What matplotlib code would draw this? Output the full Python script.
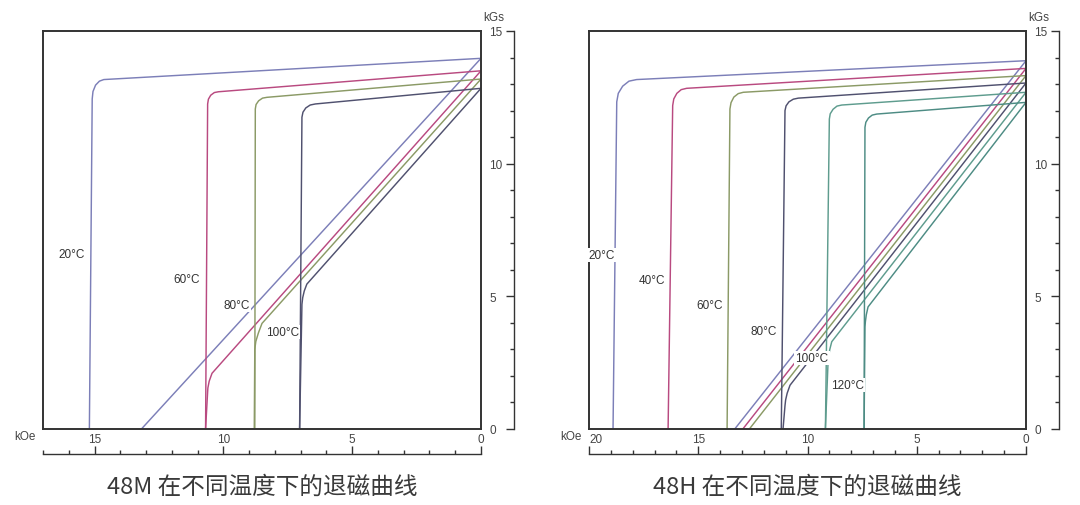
import matplotlib
matplotlib.use("Agg")
import matplotlib.pyplot as plt
from matplotlib.ticker import MultipleLocator

plt.rcParams['font.family'] = ['Liberation Sans', 'DejaVu Sans']

# ---- 48M: demagnetization curves, H in kOe, B/J in kGs ----
M_TEMPS = ['20°C', '60°C', '80°C', '100°C']
M_COLORS = ['#7c7fb8', '#b94a80', '#8b9a66', '#50516f']
# intrinsic (J) curves
M_J_H = [
    [0, 14.64, 14.81, 14.96, 15.06, 15.09, 15.20],
    [0, 10.19, 10.35, 10.49, 10.58, 10.61, 10.69],
    [0, 8.31, 8.48, 8.63, 8.73, 8.76, 8.78],
    [0, 6.43, 6.63, 6.80, 6.91, 6.95, 7.04],
]
M_J_B = [
    [13.97, 13.17, 13.11, 12.96, 12.72, 12.44, 0],
    [13.50, 12.71, 12.68, 12.58, 12.43, 12.25, 0],
    [13.19, 12.50, 12.47, 12.37, 12.23, 12.06, 0],
    [12.84, 12.25, 12.21, 12.10, 11.94, 11.75, 0],
]
# normal (B) curves
M_B_H = [
    [0, 13.18],
    [0, 10.44, 10.55, 10.60, 10.61, 10.69],
    [0, 8.50, 8.64, 8.74, 8.78, 8.80],
    [0, 6.76, 6.86, 6.92, 6.95, 7.04],
]
M_B_B = [
    [13.97, 0],
    [13.50, 2.10, 1.80, 1.55, 1.40, 0],
    [13.19, 3.98, 3.62, 3.30, 3.00, 0],
    [12.84, 5.46, 5.20, 4.95, 4.70, 0],
]
M_LABEL_XY = [(15.89, 6.6), (11.43, 5.65), (9.5, 4.67), (7.71, 3.66)]

# ---- 48H ----
H_TEMPS = ['20°C', '40°C', '60°C', '80°C', '100°C', '120°C']
H_COLORS = ['#7c7fb8', '#b94a80', '#8b9a66', '#50516f', '#5e9c8e', '#4d8c84']
H_J_H = [
    [0, 17.82, 18.17, 18.46, 18.66, 18.73, 18.90],
    [0, 15.53, 15.78, 15.98, 16.12, 16.17, 16.38],
    [0, 12.94, 13.17, 13.37, 13.50, 13.55, 13.68],
    [0, 10.42, 10.65, 10.85, 10.98, 11.03, 11.20],
    [0, 8.43, 8.65, 8.83, 8.96, 9.00, 9.18],
    [0, 6.83, 7.04, 7.21, 7.33, 7.37, 7.41],
]
H_J_B = [
    [13.88, 13.17, 13.11, 12.92, 12.65, 12.33, 0],
    [13.59, 12.84, 12.79, 12.65, 12.44, 12.19, 0],
    [13.32, 12.69, 12.64, 12.51, 12.30, 12.06, 0],
    [13.04, 12.47, 12.43, 12.33, 12.18, 12.00, 0],
    [12.69, 12.21, 12.17, 12.05, 11.88, 11.68, 0],
    [12.31, 11.87, 11.83, 11.72, 11.56, 11.37, 0],
]
H_B_H = [
    [0, 13.33],
    [0, 12.96],
    [0, 12.66],
    [0, 10.80, 10.93, 11.00, 11.03, 11.12],
    [0, 8.89, 8.98, 9.03, 9.06, 9.18],
    [0, 7.23, 7.31, 7.35, 7.37, 7.41],
]
H_B_B = [
    [13.88, 0],
    [13.59, 0],
    [13.32, 0],
    [13.04, 1.65, 1.35, 1.10, 0.88, 0],
    [12.69, 3.29, 3.00, 2.75, 2.50, 0],
    [12.31, 4.60, 4.30, 4.05, 3.85, 0],
]
H_LABEL_XY = [(19.4, 6.56), (17.12, 5.62), (14.5, 4.67), (12.0, 3.69), (9.79, 2.68), (8.19, 1.66)]

Y_TICKS = [0, 5, 10, 15]
INK = '#333333'
TXT = '#444444'

fig = plt.figure(figsize=(10.8, 5.06), dpi=100)


def draw_panel(rect, temps, colors, j_h, j_b, b_h, b_b, label_xy, hmax, xticks, title):
    ax = fig.add_axes(rect)
    for c, jh, jb, bh, bb in zip(colors, j_h, j_b, b_h, b_b):
        ax.plot(jh, jb, color=c, lw=1.05, solid_joinstyle='round')
        ax.plot(bh, bb, color=c, lw=1.05, solid_joinstyle='round')
    for t, (x, y) in zip(temps, label_xy):
        ax.text(x, y, t, ha='center', va='center', fontsize=8.5, color=INK, zorder=5,
                bbox=dict(boxstyle='square,pad=0.1', fc='white', ec='none'))

    ax.set_xlim(hmax, 0)
    ax.set_ylim(0, 15)
    for s in ax.spines.values():
        s.set_color(INK)
        s.set_linewidth(1.4)

    ax.set_xticks(xticks)
    ax.tick_params(axis='x', length=0, pad=3, labelsize=8.5, labelcolor=TXT)
    ax.yaxis.tick_right()
    ax.set_yticks(Y_TICKS)
    ax.tick_params(axis='y', length=0, pad=6, labelsize=8.5, labelcolor=TXT)

    # rulers detached from the box
    w_px = rect[2] * 1080
    h_px = rect[3] * 506
    sx = ax.secondary_xaxis(-25 / h_px)
    sx.set_xticks(xticks)
    sx.xaxis.set_minor_locator(MultipleLocator(1))
    sx.tick_params(which='major', direction='in', length=6, width=1, color=INK, labelbottom=False)
    sx.tick_params(which='minor', direction='in', length=3.2, width=1, color=INK)
    sx.spines['bottom'].set_color(INK)
    sx.spines['bottom'].set_linewidth(1)

    sy = ax.secondary_yaxis(1 + 33 / w_px)
    sy.set_yticks(Y_TICKS)
    sy.yaxis.set_minor_locator(MultipleLocator(1))
    sy.tick_params(which='major', direction='in', length=6, width=1, color=INK, labelright=False)
    sy.tick_params(which='minor', direction='in', length=3.2, width=1, color=INK)
    sy.spines['right'].set_color(INK)
    sy.spines['right'].set_linewidth(1)

    ax.text(-18 / w_px, -7 / h_px, 'kOe', transform=ax.transAxes, ha='center', va='center',
            fontsize=8.5, color=TXT)
    ax.text(1 + 13 / w_px, 1 + 14 / h_px, 'kGs', transform=ax.transAxes, ha='center', va='center',
            fontsize=8.5, color=TXT)

    cx = rect[0] + rect[2] / 2
    fig.text(cx, (506 - 487) / 506, title, ha='center', va='center', fontsize=17, color='#3a3a3a',
             family=['Noto Sans CJK SC', 'DejaVu Sans'])
    return ax


ax1 = draw_panel([43 / 1080, 76 / 506, 438 / 1080, 398 / 506], M_TEMPS, M_COLORS,
                 M_J_H, M_J_B, M_B_H, M_B_B, M_LABEL_XY, 17, [15, 10, 5, 0],
                 '48M 在不同温度下的退磁曲线')
ax2 = draw_panel([589 / 1080, 76 / 506, 437 / 1080, 398 / 506], H_TEMPS, H_COLORS,
                 H_J_H, H_J_B, H_B_H, H_B_B, H_LABEL_XY, 20, [20, 15, 10, 5, 0],
                 '48H 在不同温度下的退磁曲线')
lab = ax2.get_xticklabels()[0]
lab.set_ha('left')

fig.savefig('out.png', dpi=100)
